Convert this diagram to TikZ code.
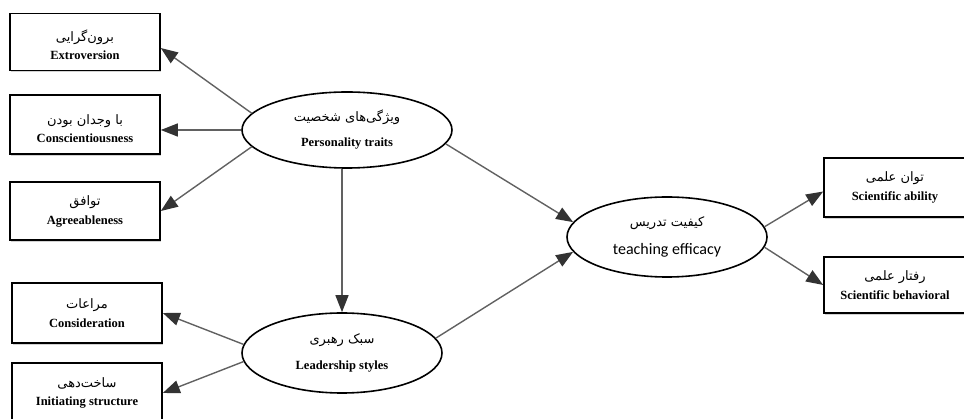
\documentclass[tikz,border=0pt]{standalone}
\usepackage{fontspec}
\setmainfont{Liberation Serif}
\newfontfamily\fa[Script=Arabic]{DejaVu Sans}
\newfontfamily\calfont{Carlito}
\TeXXeTstate=1
\usetikzlibrary{arrows.meta,shapes.geometric,shadows}
\newcommand\fatxt[1]{{\fa\fontsize{13}{14}\selectfont\beginR #1\endR}}
\newcommand\entxt[1]{{\bfseries\fontsize{12.5}{13}\selectfont #1}}
\begin{document}
\begin{tikzpicture}[x=1pt,y=-1pt,
  box/.style={draw, line width=1.6pt, minimum width=150pt, inner sep=0pt, align=center, fill=white,
    drop shadow={shadow xshift=1.2pt, shadow yshift=-2pt, fill=black!35}},
  oval/.style={ellipse, draw, line width=1.6pt, minimum width=200pt, minimum height=80pt, inner sep=0pt, align=center, fill=white},
  arr/.style={draw=black!62, line width=1.4pt, -{Triangle[length=17pt,width=13pt,color=black!80]}}]
\useasboundingbox (0,0) rectangle (964,419);
\clip (0,0) rectangle (964,419);
% boxes
\node[box, minimum height=57pt] (ext) at (85,42) {\rule{0pt}{18pt}\fatxt{برون^^^^200cگرایی}\\[6pt]\entxt{Extroversion}};
\node[box, minimum height=59pt] (con) at (85,124.5) {\rule{0pt}{18pt}\fatxt{با وجدان بودن}\\[6pt]\entxt{Conscientiousness}};
\node[box, minimum height=58pt] (agr) at (85,211) {\fatxt{توافق}\\[7pt]\entxt{Agreeableness}};
\node[box, minimum height=60pt] (cns) at (87,313) {\fatxt{مراعات}\\[7pt]\entxt{Consideration}};
\node[box, minimum height=60pt] (ini) at (87,393) {\fatxt{ساخت^^^^200cدهی}\\[6pt]\entxt{Initiating structure}};
\node[box, minimum width=142pt, minimum height=59pt] (abl) at (895,187.5) {\fatxt{توان علمی}\\[7pt]\entxt{Scientific ability}};
\node[box, minimum width=142pt, minimum height=56pt] (beh) at (895,285) {\fatxt{رفتار علمی}\\[7pt]\entxt{Scientific behavioral}};
% ellipses
\node[oval, minimum width=210pt, minimum height=76pt] (per) at (347,130) {\fatxt{ویژگی^^^^200cهای شخصیت}\\[13pt]\entxt{Personality traits}};
\node[oval] (lea) at (342,353) {\fatxt{سبک رهبری}\\[14pt]\entxt{Leadership styles}};
\node[oval] (tea) at (667,237) {\fatxt{کیفیت تدریس}\\[12pt]{\calfont\fontsize{16}{17}\selectfont teaching efficacy}};
% connectors
\draw[arr] (per.170) -- ([yshift=-6pt]ext.east);
\draw[arr] (per.west) -- (per.west -| con.east);
\draw[arr] (per.190) -- (agr.east);
\draw[arr] (lea.north |- per.south) -- (lea.north);
\draw[arr] (lea.175) -- (cns.east);
\draw[arr] (lea.185) -- (ini.east);
\draw[arr] (per.352) -- (tea.171);
\draw[arr] (lea.9) -- (tea.189);
\draw[arr] (tea.6) -- ([yshift=-4pt]abl.west);
\draw[arr] (tea.354) -- (beh.west);
\end{tikzpicture}
\end{document}
